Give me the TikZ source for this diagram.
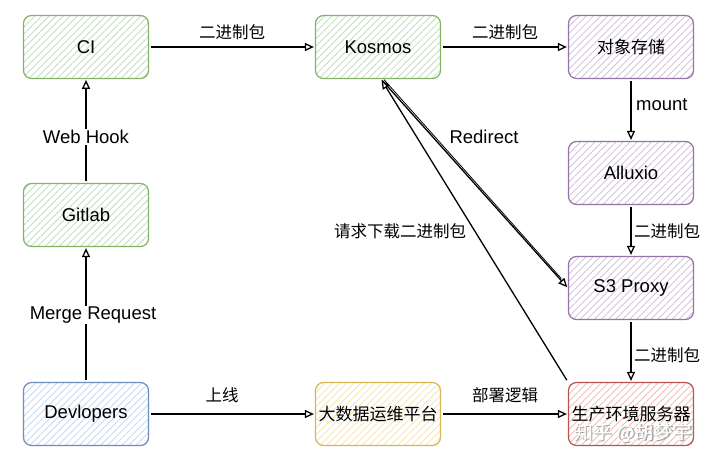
\documentclass[tikz,border=0pt]{standalone}
\usepackage{fontspec}
\setmainfont{Liberation Sans}
\newfontfamily\cjk{Noto Sans CJK SC}
\usetikzlibrary{arrows.meta,patterns.meta}
\definecolor{gfill}{HTML}{B9D9B6}\definecolor{gline}{HTML}{82B366}
\definecolor{pfill}{HTML}{CDBBD8}\definecolor{pline}{HTML}{9673A6}
\definecolor{bfill}{HTML}{BCD3F2}\definecolor{bline}{HTML}{6C8EBF}
\definecolor{yfill}{HTML}{F5E2A8}\definecolor{yline}{HTML}{D6B656}
\definecolor{rfill}{HTML}{EFB4B1}\definecolor{rline}{HTML}{B85450}
\newcommand{\cjkbox}{\cjk\fontsize{17}{20}\selectfont}
\tikzset{
  box/.style={rounded corners=8pt, minimum width=125pt, minimum height=63pt, inner sep=0pt,
    line width=1.2pt, font=\fontsize{18.5}{21}\selectfont},
  gbox/.style={box, draw=gline, pattern={Lines[angle=45,distance=5pt,line width=0.7pt]}, pattern color=gfill},
  pbox/.style={box, draw=pline, pattern={Lines[angle=45,distance=5pt,line width=0.7pt]}, pattern color=pfill},
  bbox/.style={box, draw=bline, pattern={Lines[angle=45,distance=5pt,line width=0.7pt]}, pattern color=bfill},
  ybox/.style={box, draw=yline, pattern={Lines[angle=45,distance=5pt,line width=0.7pt]}, pattern color=yfill},
  rbox/.style={box, draw=rline, pattern={Lines[angle=45,distance=5pt,line width=0.7pt]}, pattern color=rfill},
  conn/.style={draw=black, line width=1.3pt, -{Triangle[open,length=9pt,width=8pt]}, shorten >=1pt, shorten <=2pt},
  lab/.style={font=\fontsize{18.5}{21}\selectfont, inner sep=1pt},
  clab/.style={font=\cjk\fontsize{16.5}{20}\selectfont, inner sep=1pt},
}
\begin{document}
\begin{tikzpicture}[x=1pt,y=-1pt]
\useasboundingbox[fill=white] (0,0) rectangle (720,461);
% nodes
\node[gbox] (ci) at (86,47) {CI};
\node[gbox] (kos) at (378,47) {Kosmos};
\node[pbox] (obj) at (631,47) {\cjkbox 对象存储};
\node[pbox] (alx) at (631,173) {Alluxio};
\node[pbox] (s3) at (631,288) {S3 Proxy};
\node[rbox] (prod) at (631,414) {\cjkbox 生产环境服务器};
\node[gbox] (git) at (86,215) {Gitlab};
\node[bbox] (dev) at (86,414) {Devlopers};
\node[ybox] (bd) at (378,414) {\cjkbox 大数据运维平台};
% connectors
\draw[conn] (ci) -- (kos);
\draw[conn] (kos) -- (obj);
\draw[conn] (obj) -- (alx);
\draw[conn] (alx) -- (s3);
\draw[conn] (s3) -- (prod);
\draw[conn] (git) -- (ci);
\draw[conn] (dev) -- (git);
\draw[conn] (dev) -- (bd);
\draw[conn] (bd) -- (prod);
\coordinate (kb) at ([xshift=3pt]kos.south);
\draw[conn] (prod.north west) -- (kb);
\draw[conn] (kb) -- (s3.west);
\draw[draw=black, line width=0.8pt, shorten >=10pt] ([xshift=3pt,yshift=-0.5pt]kb) -- ([yshift=2pt]s3.west);
% labels
\node[clab] (l1) at (232,32) {二进制包};
\node[clab] (l2) at (505,32) {二进制包};
\node[lab, anchor=west] (l3) at (635,105) {mount};
\node[clab, anchor=west] (l4) at (633,231) {二进制包};
\node[clab, anchor=west] (l5) at (633,355) {二进制包};
\node[lab, fill=white] (l6) at (86,137) {Web Hook};
\node[lab, fill=white] (l7) at (93,315) {Merge Request};
\node[clab] (l8) at (222,395) {上线};
\node[clab] (l9) at (505,395) {部署逻辑};
\node[lab] (l10) at (484,137) {Redirect};
\node[clab] (l11) at (400,231) {请求下载二进制包};
% watermark
\node[font=\cjk\fontsize{19}{22}\selectfont, text=black!35] at (634.5,434.5) {知乎 @胡梦宇};
\node[font=\cjk\fontsize{19}{22}\selectfont, text=white] (wm) at (633,433) {知乎 @胡梦宇};
\end{tikzpicture}
\end{document}
